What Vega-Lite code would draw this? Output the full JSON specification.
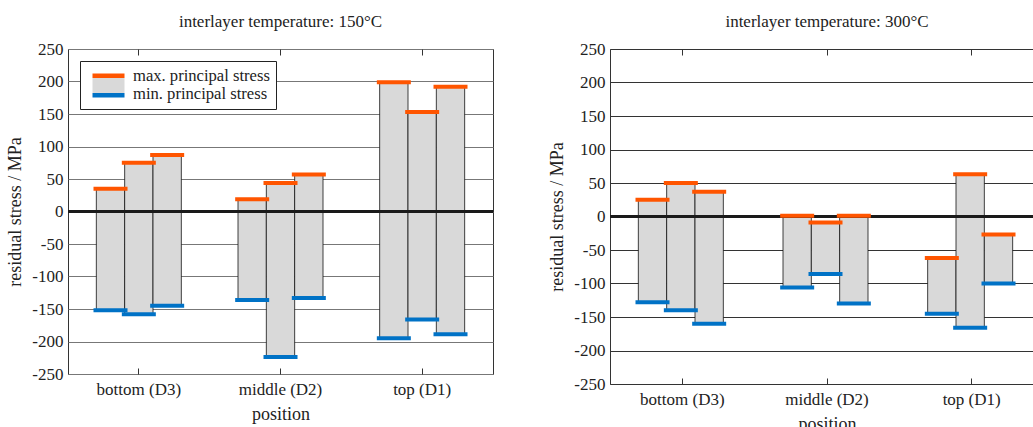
{
  "$schema": "https://vega.github.io/schema/vega-lite/v6.json",
  "padding": {"left": 6, "top": 12, "right": -10, "bottom": -6},
  "spacing": 53,
  "datasets": {
    "stress": [
      {"temp": "150", "position": "bottom (D3)", "sample": 1, "max": 35, "min": -152},
      {"temp": "150", "position": "bottom (D3)", "sample": 2, "max": 75, "min": -158},
      {"temp": "150", "position": "bottom (D3)", "sample": 3, "max": 87, "min": -145},
      {"temp": "150", "position": "middle (D2)", "sample": 1, "max": 19, "min": -136},
      {"temp": "150", "position": "middle (D2)", "sample": 2, "max": 44, "min": -224},
      {"temp": "150", "position": "middle (D2)", "sample": 3, "max": 57, "min": -133},
      {"temp": "150", "position": "top (D1)", "sample": 1, "max": 199, "min": -195},
      {"temp": "150", "position": "top (D1)", "sample": 2, "max": 153, "min": -166},
      {"temp": "150", "position": "top (D1)", "sample": 3, "max": 192, "min": -189},
      {"temp": "300", "position": "bottom (D3)", "sample": 1, "max": 25, "min": -128},
      {"temp": "300", "position": "bottom (D3)", "sample": 2, "max": 50, "min": -140},
      {"temp": "300", "position": "bottom (D3)", "sample": 3, "max": 37, "min": -160},
      {"temp": "300", "position": "middle (D2)", "sample": 1, "max": 1, "min": -106},
      {"temp": "300", "position": "middle (D2)", "sample": 2, "max": -9, "min": -86},
      {"temp": "300", "position": "middle (D2)", "sample": 3, "max": 1, "min": -130},
      {"temp": "300", "position": "top (D1)", "sample": 1, "max": -62, "min": -145},
      {"temp": "300", "position": "top (D1)", "sample": 2, "max": 63, "min": -166},
      {"temp": "300", "position": "top (D1)", "sample": 3, "max": -27, "min": -100}
    ]
  },
  "config": {
    "font": "Liberation Serif",
    "view": {"stroke": "#333", "strokeWidth": 1},
    "axis": {"labelFontSize": 17, "labelColor": "#222", "titleFontSize": 18, "titleFontWeight": "normal", "titleColor": "#222", "domain": false, "grid": false, "tickColor": "#333"},
    "title": {"fontSize": 17, "fontWeight": "normal", "color": "#222", "offset": 9}
  },
  "hconcat": [
    {
      "width": 425,
      "height": 325,
      "title": "interlayer temperature: 150°C",
      "resolve": {"axis": {"x": "independent"}},
      "layer": [
        {
          "data": {"name": "stress"},
          "transform": [{"filter": "datum.temp == '150'"}],
          "mark": {"type": "bar", "fill": "#d9d9d9", "stroke": "#111", "strokeWidth": 0.8},
          "encoding": {
            "x": {"field": "position", "type": "nominal", "sort": ["bottom (D3)", "middle (D2)", "top (D1)"], "scale": {"paddingInner": 0, "paddingOuter": 0},
                  "axis": {"orient": "bottom", "title": "position", "labelAngle": 0, "tickSize": -6, "labelPadding": 13, "titlePadding": 8}},
            "xOffset": {"field": "sample", "type": "nominal", "scale": {"paddingInner": 0, "paddingOuter": 1}},
            "y": {"field": "min", "type": "quantitative", "scale": {"domain": [-250, 250], "nice": false},
                  "axis": {"title": "residual stress / MPa", "values": [-250, -200, -150, -100, -50, 0, 50, 100, 150, 200, 250], "tickCount": 11, "labelOverlap": false, "labelExpr": "'' + datum.value", "grid": true, "gridColor": "#777", "ticks": false, "labelPadding": 5, "titlePadding": 7}},
            "y2": {"field": "max"}
          }
        },
        {
          "data": {"values": [{}]},
          "mark": {"type": "rule", "color": "#1a1a1a", "strokeWidth": 3},
          "encoding": {"y": {"datum": 0, "type": "quantitative"}}
        },
        {
          "data": {"name": "stress"},
          "transform": [{"filter": "datum.temp == '150'"}],
          "mark": {"type": "tick", "size": 34, "thickness": 4, "color": "#ff5500", "opacity": 1},
          "encoding": {
            "x": {"field": "position", "type": "nominal", "sort": ["bottom (D3)", "middle (D2)", "top (D1)"],
                  "axis": {"orient": "top", "title": null, "labels": false, "tickSize": -6}},
            "xOffset": {"field": "sample", "type": "nominal"},
            "y": {"field": "max", "type": "quantitative"}
          }
        },
        {
          "data": {"name": "stress"},
          "transform": [{"filter": "datum.temp == '150'"}],
          "mark": {"type": "tick", "size": 34, "thickness": 4, "color": "#0072c6", "opacity": 1},
          "encoding": {
            "x": {"field": "position", "type": "nominal", "sort": ["bottom (D3)", "middle (D2)", "top (D1)"], "axis": null},
            "xOffset": {"field": "sample", "type": "nominal"},
            "y": {"field": "min", "type": "quantitative"}
          }
        },
        {
          "data": {"values": []},
          "mark": {
            "type": "point", "filled": true, "size": 256, "opacity": 1,
            "shape": "M-0.25,-0.25H3.75V2.75H-0.25Z",
            "fill": {"gradient": "linear", "x1": 0, "y1": 0, "x2": 0, "y2": 1, "stops": [
              {"offset": 0, "color": "#ff5500"}, {"offset": 0.167, "color": "#ff5500"}, {"offset": 0.167, "color": "#d9d9d9"},
              {"offset": 0.833, "color": "#d9d9d9"}, {"offset": 0.833, "color": "#0072c6"}, {"offset": 1, "color": "#0072c6"}]},
            "stroke": "#444", "strokeWidth": 1, "strokeDash": [0, 32, 24, 32, 24]
          },
          "encoding": {
            "opacity": {"datum": "legend", "type": "nominal", "scale": {"range": [1]},
              "legend": {
                "title": null, "orient": "top-left", "offset": 12, "strokeColor": "#222", "fillColor": "white", "padding": 6,
                "labelFontSize": 16.6, "labelFont": "Liberation Serif", "labelColor": "#222", "labelLimit": 300,
                "labelExpr": "['max. principal stress', 'min. principal stress']",
                "symbolSize": 256, "symbolType": "M-0.25,-0.25H3.75V2.75H-0.25Z", "labelOffset": 30,
                "symbolStrokeColor": "#444", "symbolStrokeWidth": 1, "symbolDash": [0, 32, 24, 32, 24], "symbolOpacity": 1
              }
            }
          }
        }
      ]
    },
    {
      "width": 434,
      "height": 335,
      "title": "interlayer temperature: 300°C",
      "resolve": {"axis": {"x": "independent"}},
      "layer": [
        {
          "data": {"name": "stress"},
          "transform": [{"filter": "datum.temp == '300'"}],
          "mark": {"type": "bar", "fill": "#d9d9d9", "stroke": "#111", "strokeWidth": 0.8},
          "encoding": {
            "x": {"field": "position", "type": "nominal", "sort": ["bottom (D3)", "middle (D2)", "top (D1)"], "scale": {"paddingInner": 0, "paddingOuter": 0},
                  "axis": {"orient": "bottom", "title": "position", "labelAngle": 0, "tickSize": -6, "labelPadding": 13, "titlePadding": 8}},
            "xOffset": {"field": "sample", "type": "nominal", "scale": {"paddingInner": 0, "paddingOuter": 1}},
            "y": {"field": "min", "type": "quantitative", "scale": {"domain": [-250, 250], "nice": false},
                  "axis": {"title": "residual stress / MPa", "values": [-250, -200, -150, -100, -50, 0, 50, 100, 150, 200, 250], "tickCount": 11, "labelOverlap": false, "labelExpr": "'' + datum.value", "grid": true, "gridColor": "#333", "ticks": false, "labelPadding": 5, "titlePadding": 7}},
            "y2": {"field": "max"}
          }
        },
        {
          "data": {"values": [{}]},
          "mark": {"type": "rule", "color": "#1a1a1a", "strokeWidth": 3},
          "encoding": {"y": {"datum": 0, "type": "quantitative"}}
        },
        {
          "data": {"name": "stress"},
          "transform": [{"filter": "datum.temp == '300'"}],
          "mark": {"type": "tick", "size": 34, "thickness": 4, "color": "#ff5500", "opacity": 1},
          "encoding": {
            "x": {"field": "position", "type": "nominal", "sort": ["bottom (D3)", "middle (D2)", "top (D1)"],
                  "axis": {"orient": "top", "title": null, "labels": false, "tickSize": -6}},
            "xOffset": {"field": "sample", "type": "nominal"},
            "y": {"field": "max", "type": "quantitative"}
          }
        },
        {
          "data": {"name": "stress"},
          "transform": [{"filter": "datum.temp == '300'"}],
          "mark": {"type": "tick", "size": 34, "thickness": 4, "color": "#0072c6", "opacity": 1},
          "encoding": {
            "x": {"field": "position", "type": "nominal", "sort": ["bottom (D3)", "middle (D2)", "top (D1)"], "axis": null},
            "xOffset": {"field": "sample", "type": "nominal"},
            "y": {"field": "min", "type": "quantitative"}
          }
        }
      ]
    }
  ]
}
